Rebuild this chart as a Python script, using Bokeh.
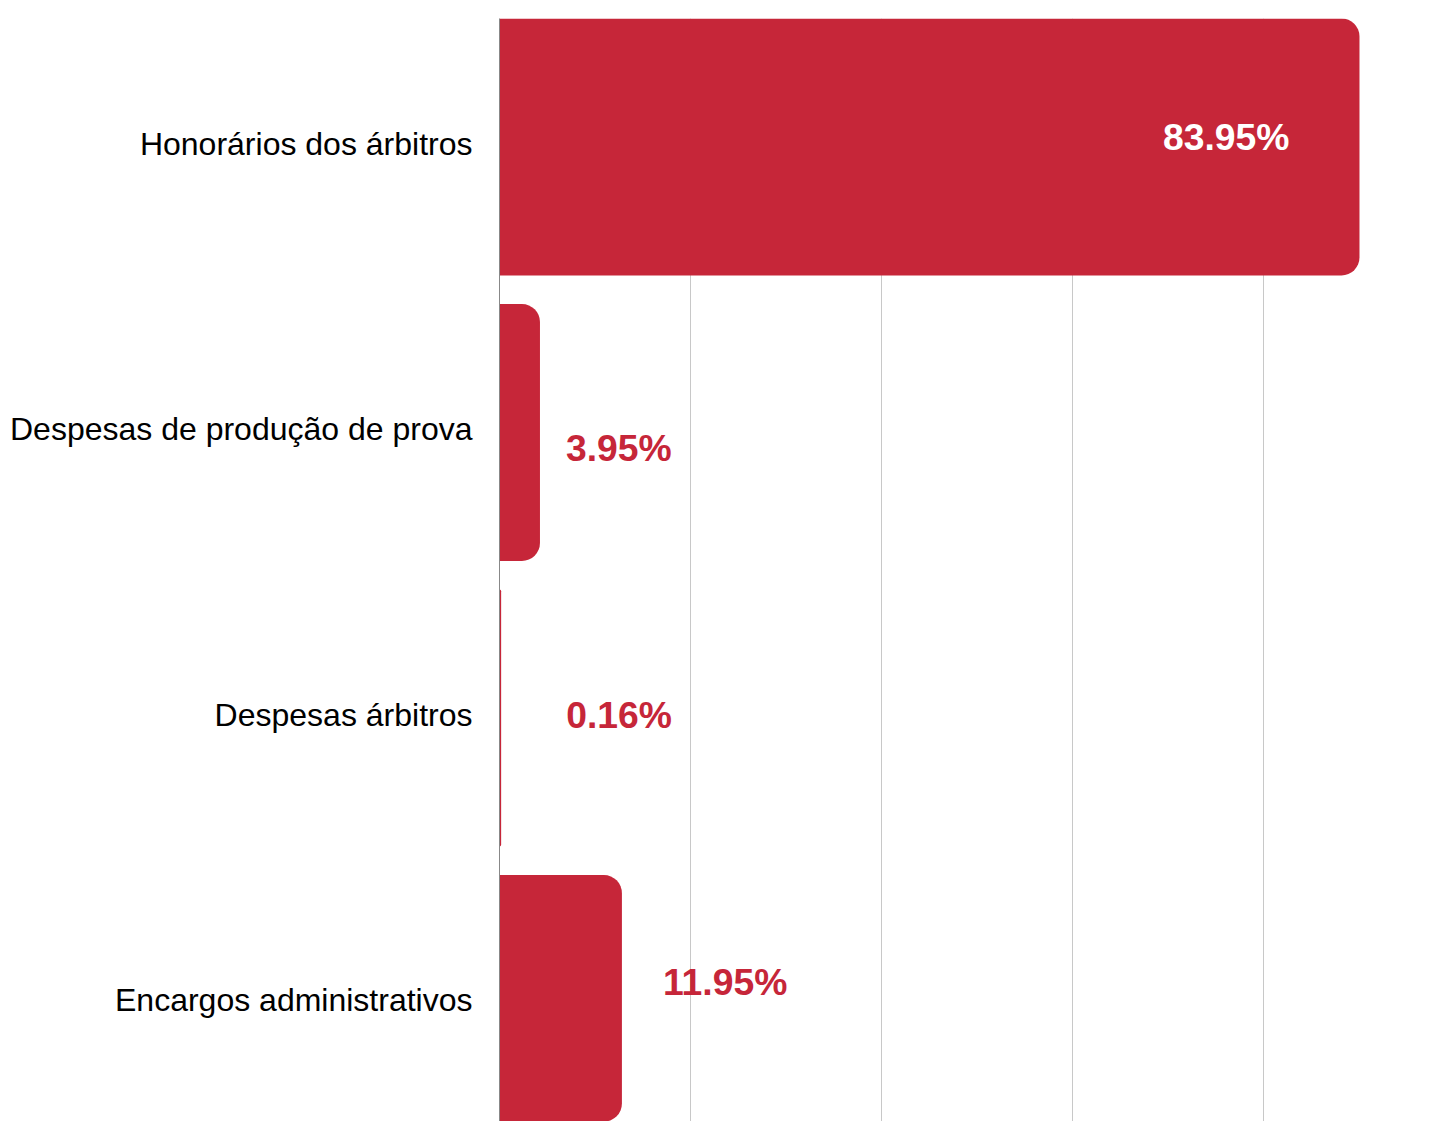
from bokeh.plotting import figure
from bokeh.models import Range1d, FixedTicker, LinearAxis, Grid, ColumnDataSource
from bokeh.core.properties import value
from bokeh.embed import file_html
from bokeh.resources import INLINE

# ---- data ----
categories = [
    "Honorários dos árbitros",
    "Despesas de produção de prova",
    "Despesas árbitros",
    "Encargos administrativos",
]
shares = [83.95, 3.95, 0.16, 11.95]
value_labels = [f"{v:.2f}%" for v in shares]
gridline_values = [18.645, 37.29, 55.935, 74.58]

# ---- styles ----
RED = "#C62639"
label_colors = ["#FFFFFF", RED, RED, RED]
label_align = ["right", "left", "left", "left"]
label_dx = [-70, 26, 65, 41]
label_dy = [-10, 16, -3, -21]

idx = list(range(len(categories)))
px_per_unit = 10.244
frame_w = 950
y_lo, y_hi = 3.4133, -0.45
label_shift = 0.012

p = figure(
    width=1449, height=1121,
    output_backend="svg", toolbar_location=None,
    x_range=Range1d(0, frame_w / px_per_unit),
    y_range=Range1d(y_lo, y_hi),
    x_axis_location=None, y_axis_location=None,
    min_border_left=499, min_border_right=0,
    min_border_top=18, min_border_bottom=0,
)
p.center = []
p.outline_line_color = None
p.background_fill_color = "white"
p.border_fill_color = "white"
p.extra_y_ranges = {"labels": Range1d(y_lo + label_shift, y_hi + label_shift)}

grid = Grid(dimension=0, ticker=FixedTicker(ticks=gridline_values))
grid.grid_line_color = "#C8C8C8"
grid.grid_line_width = 1
p.add_layout(grid)

yaxis = LinearAxis(
    y_range_name="labels",
    ticker=FixedTicker(ticks=idx),
    major_label_overrides={i: c for i, c in enumerate(categories)},
)
yaxis.axis_line_color = "#888888"
yaxis.axis_line_width = 1
yaxis.major_tick_line_color = None
yaxis.minor_tick_line_color = None
yaxis.major_tick_in = 0
yaxis.major_tick_out = 0
yaxis.minor_tick_in = 0
yaxis.minor_tick_out = 0
yaxis.major_label_standoff = 27
yaxis.major_label_text_font = "Liberation Sans"
yaxis.major_label_text_font_size = "32px"
yaxis.major_label_text_color = "#000000"
p.add_layout(yaxis, "left")

p.hbar(y=idx, left=0, right=shares, height=0.9, fill_color=RED, line_color=None,
       border_radius=(0, 18, 18, 0))

src = ColumnDataSource(dict(x=shares, y=idx, text=value_labels, color=label_colors,
                            align=label_align, dx=label_dx, dy=label_dy))
p.text(x="x", y="y", text="text", source=src, text_color="color", text_align="align",
       x_offset="dx", y_offset="dy", text_baseline="middle",
       text_font=value("Liberation Sans"), text_font_style="bold", text_font_size="37.3px")

open("out.html", "w").write(file_html(p, INLINE))
